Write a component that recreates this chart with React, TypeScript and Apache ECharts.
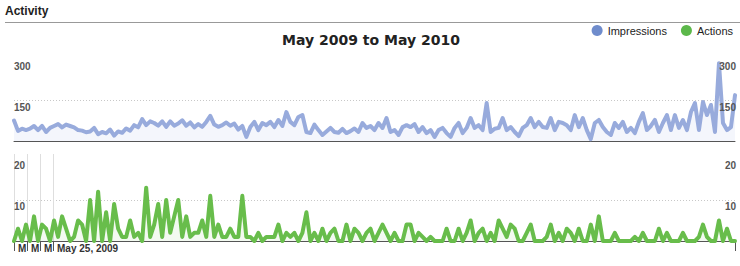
import React, { useEffect, useRef } from "react";
import * as echarts from "echarts";

// Impressions per sample (about every 2 days, May 2009 - May 2010)
const impressions = [
  75, 37, 45, 40, 45, 55, 40, 55, 33, 48,
  55, 62, 50, 60, 55, 50, 40, 38, 32, 35,
  48, 25, 33, 28, 42, 20, 35, 30, 46, 38,
  58, 50, 80, 58, 72, 66, 56, 72, 52, 72,
  56, 64, 76, 56, 68, 50, 62, 52, 70, 92,
  60, 52, 58, 68, 56, 64, 42, 55, 15, 51,
  70, 40, 66, 58, 70, 51, 77, 55, 106, 70,
  58, 88, 95, 33, 29, 60, 40, 22, 35, 48,
  33, 30, 44, 29, 36, 46, 33, 66, 48, 55,
  40, 66, 48, 84, 33, 40, 22, 51, 58, 51,
  62, 33, 51, 29, 40, 15, 40, 48, 29, 15,
  48, 66, 29, 48, 84, 48, 58, 40, 139, 33,
  45, 48, 84, 40, 51, 33, 18, 48, 58, 84,
  51, 70, 51, 48, 84, 40, 70, 66, 58, 40,
  95, 51, 84, 40, 7, 66, 77, 51, 33, 22,
  66, 48, 70, 33, 48, 29, 70, 102, 40, 55,
  77, 33, 66, 95, 40, 95, 48, 77, 40, 106,
  139, 40, 143, 95, 132, 33, 285, 66, 40, 51, 168,
];

// Actions per sample
const actions = [
  0, 3, 0, 4, 0, 6, 0, 4, 3, 0,
  5, 1, 6, 3, 0, 1, 5, 4, 0, 10,
  0, 12, 0, 7, 0, 9, 3, 1, 1, 5,
  1, 2, 0, 13, 1, 4, 9, 1, 10, 2,
  6, 10, 1, 6, 1, 2, 2, 5, 1, 11,
  1, 4, 1, 1, 3, 1, 1, 11, 1, 1,
  0, 2, 0, 1, 1, 1, 4, 0, 2, 1,
  2, 0, 2, 7, 0, 2, 0, 3, 0, 2,
  3, 0, 0, 4, 0, 3, 2, 0, 2, 3,
  0, 2, 4, 2, 0, 2, 0, 0, 4, 4,
  0, 2, 1, 0, 1, 0, 0, 0, 3, 0,
  0, 3, 0, 2, 5, 0, 2, 3, 0, 2,
  0, 5, 3, 1, 4, 3, 0, 0, 2, 4,
  0, 0, 0, 1, 4, 0, 2, 0, 3, 2,
  0, 3, 0, 0, 4, 0, 6, 0, 0, 0,
  2, 0, 0, 0, 0, 1, 0, 2, 0, 0,
  0, 3, 0, 2, 0, 0, 0, 2, 0, 0,
  0, 1, 4, 1, 0, 0, 5, 0, 3, 0, 0,
];

const impressionTicks = [150, 300];
const actionTicks = [10, 20];
const weekLabels = ["M", "M", "M", "May 25, 2009"];
const startDay = Date.UTC(2009, 4, 4);
const dayCount = 389;
const titleText = "May 2009 to May 2010";
const headerText = "Activity";
const seriesNames = ["Impressions", "Actions"];

const dayCats = Array.from({ length: dayCount }, (_, i) =>
  new Date(startDay + i * 86400000).toISOString().slice(0, 10)
);
const sampleCats = impressions.map((_, i) => String(i));

const FONT = "'Liberation Sans', Arial, sans-serif";

export default function App() {
  const ref = useRef<HTMLDivElement>(null);
  useEffect(() => {
    if (!ref.current) return;
    const chart = echarts.init(ref.current, undefined, { renderer: "svg" });
    const isWeekTick = (i: number) => i % 7 === 0 && i / 7 < weekLabels.length;

    const yAxis = (
      grid: number,
      max: number,
      interval: number,
      ticks: number[],
      position: string,
      split: boolean
    ) => ({
      type: "value",
      gridIndex: grid,
      min: 0,
      max,
      interval,
      position,
      z: position === "right" ? 5 : 0,
      axisLine: { show: false },
      axisTick: { show: false },
      axisLabel: {
        inside: true,
        margin: position === "right" ? -1 : 0,
        verticalAlign: "top",
        padding: [2, 0, 0, 0],
        color: "#555",
        fontWeight: "bold",
        fontSize: 10,
        fontFamily: FONT,
        formatter: (v: number) => (ticks.includes(v) ? String(v) : ""),
      },
      splitLine: split
        ? {
            show: true,
            showMaxLine: false,
            lineStyle: {
              color: ["transparent", "#c8c8c8", "transparent", "transparent"],
              type: [1, 2],
              width: 1,
            },
          }
        : { show: false },
    });

    const sampleAxis = (grid: number) => ({
      type: "category",
      gridIndex: grid,
      data: sampleCats,
      boundaryGap: false,
      axisLine: { show: true, lineStyle: { color: "#555", width: 1 } },
      axisTick: { show: false },
      axisLabel: { show: false },
      splitLine: { show: false },
    });

    chart.setOption({
      animation: false,
      textStyle: { fontFamily: FONT },
      graphic: [
        {
          type: "text",
          left: 5,
          top: 5,
          style: { text: headerText, font: `bold 12px ${FONT}`, fill: "#222" },
        },
        {
          type: "line",
          shape: { x1: 5, y1: 22.5, x2: 740, y2: 22.5 },
          style: { stroke: "#999", lineWidth: 1 },
        },
        {
          type: "text",
          x: 371,
          y: 40,
          style: {
            text: titleText,
            font: `bold 14px 'DejaVu Sans', sans-serif`,
            fill: "#222",
            align: "center",
            verticalAlign: "middle",
          },
        },
      ],
      legend: {
        right: 2,
        top: 20,
        icon: "circle",
        itemWidth: 11,
        itemHeight: 11,
        itemGap: 14,
        textStyle: { color: "#222", fontSize: 11, fontFamily: FONT },
        data: [
          { name: seriesNames[0], itemStyle: { color: "#6f8ccc", borderWidth: 0 } },
          { name: seriesNames[1], itemStyle: { color: "#5cb84a", borderWidth: 0 } },
        ],
      },
      grid: [
        { left: 14, right: 5, top: 55, height: 86 },
        { left: 14, right: 5, top: 154, height: 87 },
      ],
      xAxis: [
        sampleAxis(0),
        sampleAxis(1),
        {
          type: "category",
          gridIndex: 1,
          data: dayCats,
          boundaryGap: false,
          position: "bottom",
          axisLine: { show: false },
          axisTick: {
            show: true,
            length: 10,
            interval: (i: number) => isWeekTick(i) || i === dayCount - 1,
            lineStyle: { color: "#555", width: 1 },
          },
          axisLabel: {
            interval: (i: number) => isWeekTick(i),
            formatter: (_v: string, i: number) =>
              isWeekTick(i) ? weekLabels[i / 7] : "",
            align: "left",
            margin: 2,
            padding: [0, 0, 0, 4],
            color: "#333",
            fontWeight: "bold",
            fontSize: 10,
            fontFamily: FONT,
          },
          splitLine: {
            show: true,
            interval: (i: number) => isWeekTick(i),
            lineStyle: { color: "#dedede", width: 1 },
          },
        },
      ],
      yAxis: [
        yAxis(0, 315, 150, impressionTicks, "left", true),
        yAxis(0, 315, 150, impressionTicks, "right", false),
        yAxis(1, 21.2, 10, actionTicks, "left", true),
        yAxis(1, 21.2, 10, actionTicks, "right", false),
      ],
      series: [
        {
          type: "line",
          name: seriesNames[0],
          xAxisIndex: 0,
          yAxisIndex: 0,
          data: impressions,
          symbol: "none",
          showSymbol: false,
          clip: false,
          color: "#98abdc",
          lineStyle: { width: 4, color: "#98abdc", join: "round", cap: "round" },
          areaStyle: { color: "rgba(130,150,220,0.09)", opacity: 1 },
        },
        {
          type: "line",
          name: seriesNames[1],
          xAxisIndex: 1,
          yAxisIndex: 2,
          data: actions,
          symbol: "none",
          showSymbol: false,
          clip: false,
          color: "#68bd4b",
          lineStyle: { width: 4, color: "#68bd4b", join: "round", cap: "round" },
          areaStyle: { color: "rgba(104,189,75,0.08)", opacity: 1 },
        },
      ],
    });
    return () => chart.dispose();
  }, []);

  return (
    <div
      ref={ref}
      style={{ position: "absolute", left: 0, top: 0, width: 740, height: 266, background: "#fff" }}
    />
  );
}
